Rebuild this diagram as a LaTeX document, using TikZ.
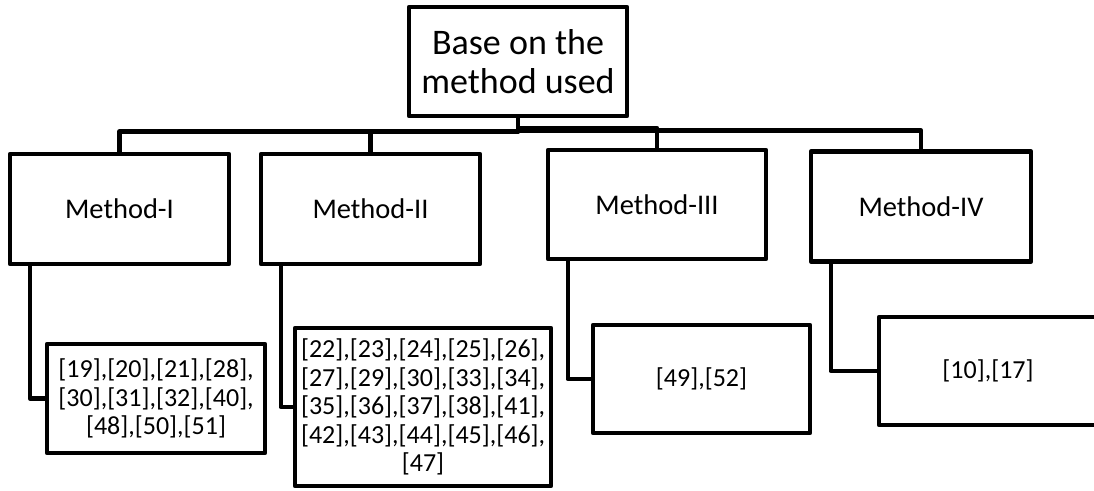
\documentclass[tikz,border=0pt]{standalone}
\usepackage{fontspec}
\setmainfont{Carlito}
\begin{document}
\begin{tikzpicture}[x=1pt,y=-1pt,
  box/.style={draw=black,fill=white,line width=4.5pt,line join=round,inner sep=0pt,align=center},
  headbox/.style={box,minimum width=218pt,minimum height=109pt,font=\fontsize{36}{39}\selectfont},
  methodbox/.style={box,minimum width=219pt,minimum height=110pt,font=\fontsize{28.5}{32}\selectfont},
  refbox/.style={box,minimum width=218pt,minimum height=108pt,font=\fontsize{26}{28.5}\selectfont},
  link/.style={draw=black,line width=4.5pt,line join=round}]
\useasboundingbox (0,0) rectangle (1094,490);
\clip (0,0) rectangle (1094,490);

% connectors (drawn first, boxes sit on top)
\coordinate (hub) at (518,116);
\node[headbox] (top) at (518,61.5) {Base on the\\method used};

\node[methodbox] (m1) at (119.5,209) {Method-I};
\node[methodbox] (m2) at (370.5,209) {Method-II};
\node[methodbox,minimum width=218pt,minimum height=109pt] (m3) at (657,204.5) {Method-III};
\node[methodbox,minimum width=220pt] (m4) at (921,206.5) {Method-IV};

\node[refbox,minimum height=109pt] (c1) at (156,398.5)
  {[19],[20],[21],[28],\\{}[30],[31],[32],[40],\\{}[48],[50],[51]};
\node[refbox,minimum width=256pt,minimum height=158pt] (c2) at (423,407)
  {[22],[23],[24],[25],[26],\\{}[27],[29],[30],[33],[34],\\{}[35],[36],[37],[38],[41],\\{}[42],[43],[44],[45],[46],\\{}[47]};
\node[refbox,minimum width=217pt] (c3) at (701.5,379) {[49],[52]};
\node[refbox] (c4) at (988,371) {[10],[17]};

% tree from the heading down to the four methods
\path[link] (top.south) -- (top.south |- 0,131.5) -| (m1.north);
\path[link] (top.south) -- (top.south |- 0,131.5) -| (m2.north);
\path[link] (top.south) -- (top.south |- 0,128) -| (m3.north);
\path[link] (top.south) -- (top.south |- 0,130.5) -| (m4.north);

% elbows from each method to its references
\path[link] ([xshift=22pt]m1.south west) |- (c1.west);
\path[link] ([xshift=22pt]m2.south west) |- (c2.west);
\path[link] ([xshift=22pt]m3.south west) |- (c3.west);
\path[link] ([xshift=22pt]m4.south west) |- (c4.west);
\end{tikzpicture}
\end{document}
